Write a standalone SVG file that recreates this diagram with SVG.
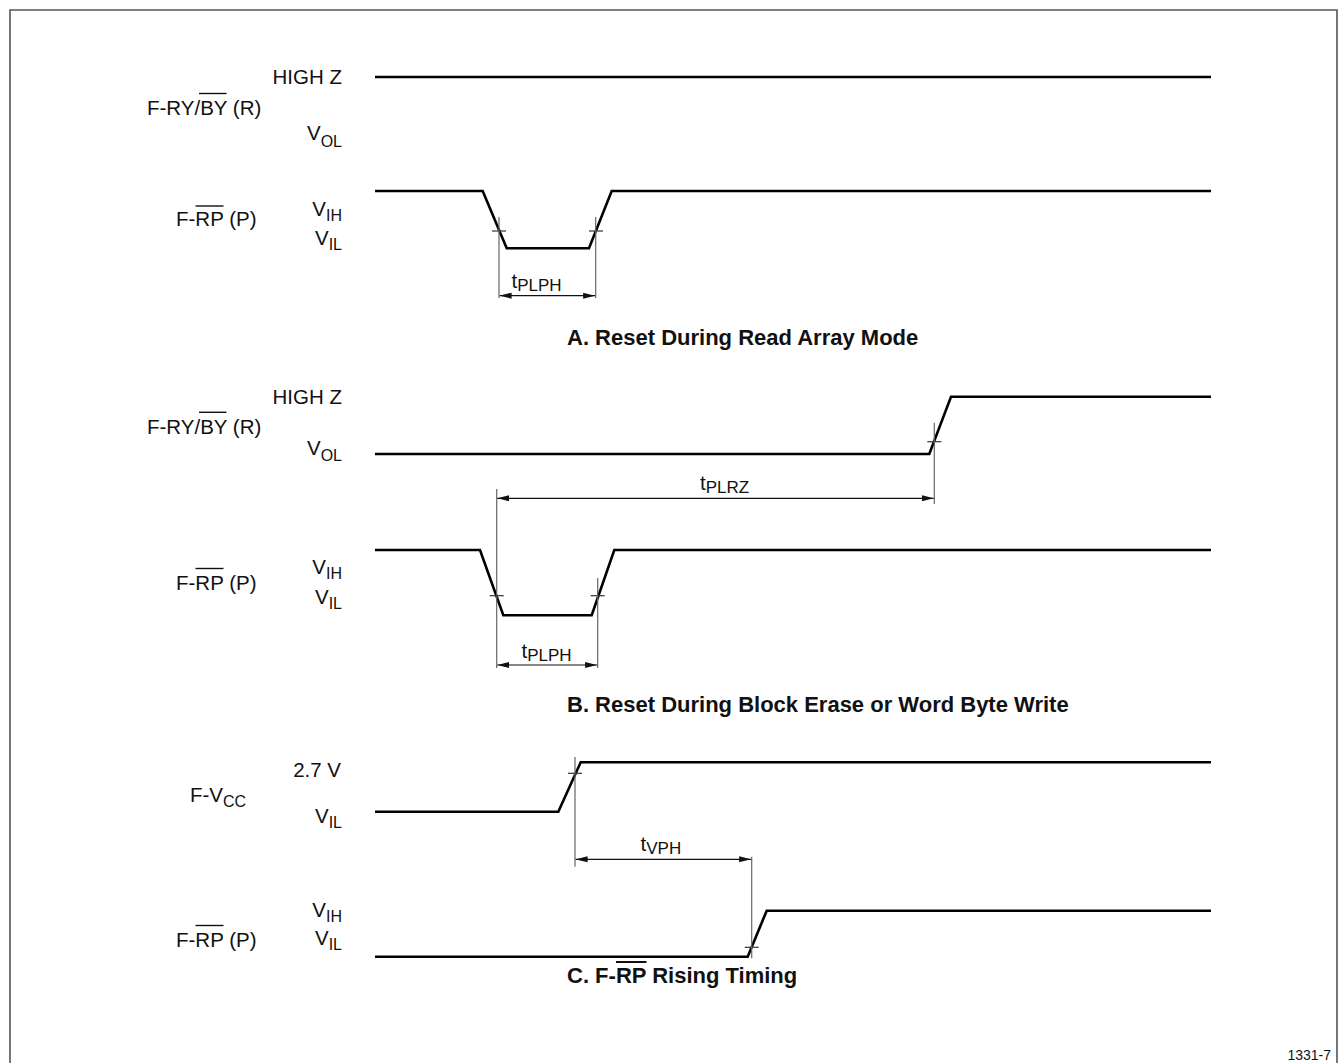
<svg xmlns="http://www.w3.org/2000/svg" width="1340" height="1063" viewBox="0 0 1340 1063">
<defs>
<marker id="ah" viewBox="0 0 12 8" refX="12" refY="4" markerWidth="12" markerHeight="8" markerUnits="userSpaceOnUse" orient="auto-start-reverse">
<path d="M0,1 L12,4 L0,7 Z" fill="#111"/>
</marker>
</defs>
<style>
.lbl{font-family:"Liberation Sans",Arial,Helvetica,sans-serif;font-size:20.5px;fill:#111}
.sub{font-size:16px}
.tsub{font-size:17px}
.cap{font-family:"Liberation Sans",Arial,Helvetica,sans-serif;font-size:22px;font-weight:bold;fill:#111}
.wave{fill:none;stroke:#000;stroke-width:2.6;stroke-linejoin:miter}
.dim{fill:none;stroke:#666;stroke-width:1.2}
.tick{fill:none;stroke:#333;stroke-width:1.2}
.arr{fill:none;stroke:#111;stroke-width:1.2;marker-start:url(#ah);marker-end:url(#ah)}
.ovl{stroke:#111;stroke-width:1.4}
.ovlb{stroke:#111;stroke-width:2}
</style>
<rect width="1340" height="1063" fill="#fff"/>
<path d="M10,1063 V10 H1337 V1063" fill="none" stroke="#555" stroke-width="1.6"/>

<g id="sectionA">
<g id="A-labels">
<text class="lbl" x="342" y="83.5" text-anchor="end">HIGH Z</text>
<text class="lbl" x="147" y="115">F-RY/BY (R)</text>
<line class="ovl" x1="199" y1="93.5" x2="226.5" y2="93.5"/>
<text class="lbl" x="342" y="140" text-anchor="end">V<tspan class="sub" dy="6.5">OL</tspan></text>
<text class="lbl" x="176" y="226">F-RP (P)</text>
<line class="ovl" x1="195.5" y1="206" x2="223.5" y2="206"/>
<text class="lbl" x="342" y="216" text-anchor="end">V<tspan class="sub" dy="5">IH</tspan></text>
<text class="lbl" x="342" y="245" text-anchor="end">V<tspan class="sub" dy="5">IL</tspan></text>
</g>
<g id="A-waves">
<path class="wave" d="M375,77 H1211"/>
<path class="wave" d="M375,191 H482.7 L506.7,248.3 H589 L611.7,191 H1211"/>
</g>
<g id="A-connectors">
<line class="tick" x1="492" y1="231" x2="506" y2="231"/>
<line class="tick" x1="589" y1="231" x2="603" y2="231"/>
<line class="dim" x1="499" y1="217" x2="499" y2="298"/>
<line class="dim" x1="595.7" y1="217" x2="595.7" y2="298"/>
<line class="arr" x1="499.6" y1="295.7" x2="595.1" y2="295.7"/>
</g>
<text class="lbl" x="511.5" y="288">t<tspan class="tsub" dy="3">PLPH</tspan></text>
<text class="cap" x="567" y="345">A. Reset During Read Array Mode</text>
</g>

<g id="sectionB">
<g id="B-labels">
<text class="lbl" x="342" y="404" text-anchor="end">HIGH Z</text>
<text class="lbl" x="147" y="433.5">F-RY/BY (R)</text>
<line class="ovl" x1="199" y1="412.3" x2="226.5" y2="412.3"/>
<text class="lbl" x="342" y="455" text-anchor="end">V<tspan class="sub" dy="6">OL</tspan></text>
<text class="lbl" x="176" y="590">F-RP (P)</text>
<line class="ovl" x1="195.5" y1="568.5" x2="223.5" y2="568.5"/>
<text class="lbl" x="342" y="574" text-anchor="end">V<tspan class="sub" dy="5">IH</tspan></text>
<text class="lbl" x="342" y="603.5" text-anchor="end">V<tspan class="sub" dy="5">IL</tspan></text>
</g>
<g id="B-waves">
<path class="wave" d="M375,454 H929.3 L951,396.7 H1211"/>
<path class="wave" d="M375,550 H480 L503.3,615.3 H591.7 L614.3,550 H1211"/>
</g>
<g id="B-connectors">
<line class="tick" x1="927.3" y1="441.7" x2="941.3" y2="441.7"/>
<line class="dim" x1="934.3" y1="422.7" x2="934.3" y2="504"/>
<line class="dim" x1="496.7" y1="489" x2="496.7" y2="668"/>
<line class="arr" x1="497.3" y1="498.3" x2="933.7" y2="498.3"/>
<line class="tick" x1="489.7" y1="595.7" x2="503.7" y2="595.7"/>
<line class="tick" x1="590.7" y1="595.7" x2="604.7" y2="595.7"/>
<line class="dim" x1="597.7" y1="578" x2="597.7" y2="668"/>
<line class="arr" x1="497.3" y1="665" x2="597.1" y2="665"/>
</g>
<text class="lbl" x="700" y="490">t<tspan class="tsub" dy="3">PLRZ</tspan></text>
<text class="lbl" x="521.5" y="658">t<tspan class="tsub" dy="3">PLPH</tspan></text>
<text class="cap" x="567" y="712">B. Reset During Block Erase or Word Byte Write</text>
</g>

<g id="sectionC">
<g id="C-labels">
<text class="lbl" x="341" y="777" text-anchor="end">2.7 V</text>
<text class="lbl" x="190" y="802">F-V<tspan class="sub" dy="5">CC</tspan></text>
<text class="lbl" x="342" y="823" text-anchor="end">V<tspan class="sub" dy="5">IL</tspan></text>
<text class="lbl" x="342" y="916.5" text-anchor="end">V<tspan class="sub" dy="5">IH</tspan></text>
<text class="lbl" x="342" y="945" text-anchor="end">V<tspan class="sub" dy="5">IL</tspan></text>
<text class="lbl" x="176" y="947">F-RP (P)</text>
<line class="ovl" x1="195.5" y1="925.5" x2="223.5" y2="925.5"/>
</g>
<g id="C-waves">
<path class="wave" d="M375,811.7 H558.3 L580.7,762.3 H1211"/>
<path class="wave" d="M375,956.7 H747.7 L766.7,910.7 H1211"/>
</g>
<g id="C-connectors">
<line class="tick" x1="568" y1="773.3" x2="582" y2="773.3"/>
<line class="dim" x1="575" y1="757" x2="575" y2="866.7"/>
<line class="tick" x1="744.7" y1="947.3" x2="758.7" y2="947.3"/>
<line class="dim" x1="751.7" y1="856.7" x2="751.7" y2="958.3"/>
<line class="arr" x1="575.6" y1="859.3" x2="751.1" y2="859.3"/>
</g>
<text class="lbl" x="640.5" y="851">t<tspan class="tsub" dy="3">VPH</tspan></text>
<text class="cap" x="567" y="983">C. F-RP Rising Timing</text>
<line class="ovlb" x1="616" y1="962" x2="646.5" y2="962"/>
</g>

<text x="1331" y="1060" text-anchor="end" font-family="Liberation Sans, Arial, sans-serif" font-size="14" fill="#111">1331-7</text>
</svg>
